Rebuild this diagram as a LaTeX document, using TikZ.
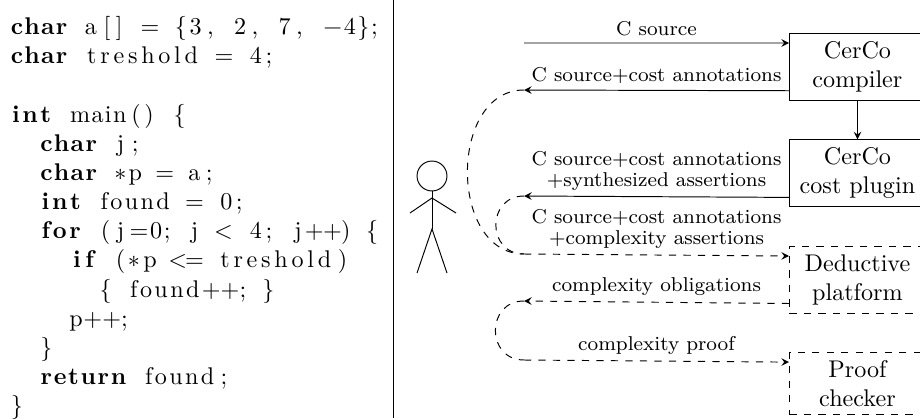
\documentclass[tikz,border=0pt]{standalone}
\usepackage{listings}
\usetikzlibrary{positioning}
\lstset{language=C,aboveskip=0pt,belowskip=0pt,basewidth=6.13pt,basicstyle=\fontsize{10}{12.08}\selectfont}

\begin{document}
\begin{tikzpicture}[
    x=0.4142pt,
    y=-0.4142pt,
    box/.style={
        draw,
        align=center,
        minimum width=56.3pt
    },
    dashbox/.style={
        box,
        dashed
    },
    lbl/.style={
        font=\fontsize{8.3}{8.7}\selectfont,
        align=center,
        yshift=-0.8pt
    },
    arrow/.style={->,>=stealth},
    dasharrow/.style={->,>=stealth,dashed},
    node distance=16pt
]
\useasboundingbox (0,0) rectangle (920,418);

% Codigo
\node[anchor=north west, inner sep=0pt, text width=160pt] (code) at (9,5) {
\begin{lstlisting}
char a[] = {3, 2, 7, -4};
char treshold = 4;

int main() {
  char j;
  char *p = a;
  int found = 0;
  for (j=0; j < 4; j++) {
    if (*p <= treshold)
      { found++; }
    p++;
  }
  return found;
}
\end{lstlisting}
};

% Separador
\coordinate (septop) at (393,0);
\coordinate (sepbottom) at (393,418);
\draw (septop) -- (sepbottom);

% Persona
\node[draw, circle, minimum size=12.4pt, inner sep=0pt] (head) at (432,176) {};
\coordinate (shoulder) at (432,198);
\coordinate (lefthand) at (410,213);
\coordinate (righthand) at (456,213);
\coordinate (hip) at (432,229);
\coordinate (leftfoot) at (417,273);
\coordinate (rightfoot) at (447,273);
\draw (head) -- (hip);
\draw (lefthand) -- (shoulder) -- (righthand);
\draw (leftfoot) -- (hip) -- (rightfoot);

% Cajas
\node[box, anchor=north west] (compiler) at (789,33) {CerCo\\compiler};
\node[box, below=of compiler] (plugin) {CerCo\\cost plugin};
\node[dashbox, below=of plugin] (platform) {Deductive\\platform};
\node[dashbox, below=of platform] (checker) {Proof\\checker};

% Puntos de las flechas
\coordinate (sourcein) at ([yshift=-4.14pt]compiler.north west);
\coordinate (sourcestart) at (524,43);
\coordinate (annotout) at ([yshift=4.14pt]compiler.south west);
\coordinate (annotend) at (524,90);
\coordinate (synthout) at ([yshift=4.14pt]plugin.south west);
\coordinate (synthend) at (524,196);
\coordinate (assertin) at ([yshift=-4.14pt]platform.north west);
\coordinate (assertstart) at (524,254);
\coordinate (obligout) at ([yshift=4.14pt]platform.south west);
\coordinate (obligend) at (524,301);
\coordinate (proofin) at ([yshift=-4.14pt]checker.north west);
\coordinate (proofstart) at (524,360);

% Flechas
\draw[arrow] (compiler) -- (plugin);

\draw[arrow] (sourcestart) -- node[lbl, above] (sourcelabel) {C source} (sourcein);
\draw[arrow] (annotout) -- node[lbl, above] (annotlabel) {C source+cost annotations} (annotend);
\draw[arrow] (synthout) -- node[lbl, above] (synthlabel) {C source+cost annotations\\+synthesized assertions} (synthend);
\draw[dasharrow] (assertstart) -- node[lbl, above] (assertlabel) {C source+cost annotations\\+complexity assertions} (assertin);
\draw[dasharrow] (obligout) -- node[lbl, above] (obliglabel) {complexity obligations} (obligend);
\draw[dasharrow] (proofstart) -- node[lbl, above] (prooflabel) {complexity proof} (proofin);

% Curvas
\draw[dashed] (annotend) to[out=180, in=180, looseness=1.18] (assertstart);
\draw[dashed] (synthend) to[out=180, in=180, looseness=1.66] (assertstart);
\draw[dashed] (obligend) to[out=180, in=180, looseness=1.66] (proofstart);

\end{tikzpicture}
\end{document}
